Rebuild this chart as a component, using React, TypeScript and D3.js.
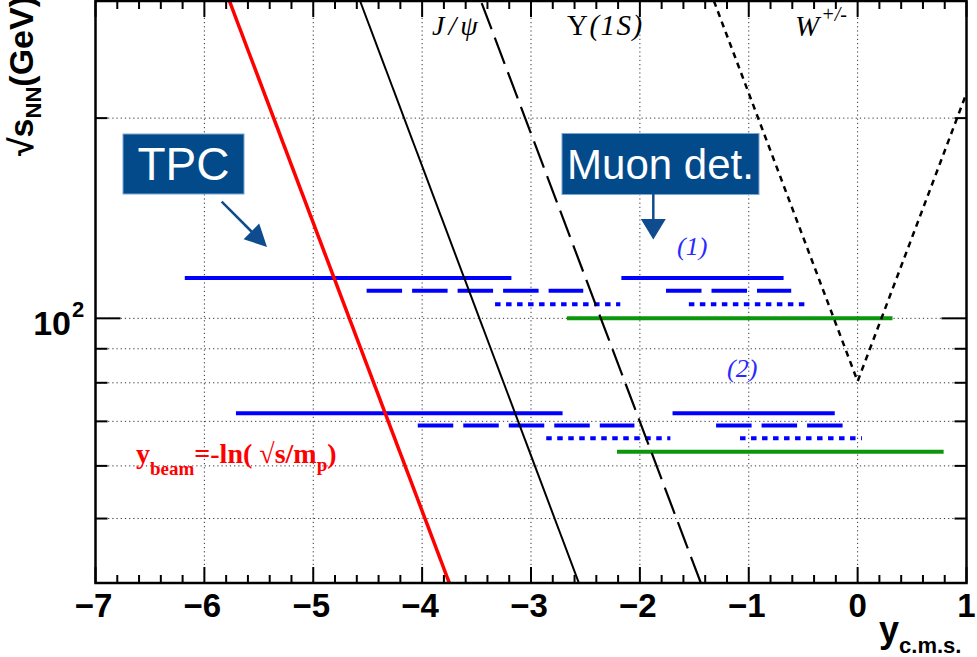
import React from 'react'
import * as d3 from 'd3'

const W = 977
const H = 657
const plot = { left: 95.5, right: 966.5, top: 1, bottom: 583 }

// axis ticks
const xTicks = [-7, -6, -5, -4, -3, -2, -1, 0, 1]
const xTickLabels = ['\u22127', '\u22126', '\u22125', '\u22124', '\u22123', '\u22122', '\u22121', '0', '1']
const yMajorTicks = [100]
const yMinorTicks = [40, 50, 60, 70, 80, 90, 200, 300]
const yGridValues = [50, 60, 70, 80, 90, 100, 200]

// kinematic limits, points are [sqrt(s_NN) GeV, y_cms]
const beamLine = [[40, -3.75], [300, -5.77]]
const jpsiLine = [[40, -2.56], [300, -4.57]]
const upsilonLine = [[40, -1.44], [300, -3.46]]
const wLine = [[300, -1.32], [80.4, 0], [300, 1.32]]

// detector acceptance bands: sqrt(s), y from, y to
const coverSolid = [
  [115, -6.18, -3.18], [115, -2.17, -0.68],
  [72, -5.71, -2.71], [72, -1.70, -0.21]
]
const coverDashed = [
  [110, -4.51, -2.52], [110, -1.76, -0.61],
  [69, -4.04, -2.05], [69, -1.30, -0.13]
]
const coverDotted = [
  [105, -3.33, -2.18], [105, -1.55, -0.44],
  [66, -2.86, -1.72], [66, -1.08, 0.04]
]
const coverGreen = [
  [100, -2.67, 0.32],
  [63, -2.21, 0.79]
]

const sans = '"Liberation Sans", Arial, sans-serif'
const serif = '"Liberation Serif", "Times New Roman", serif'

const App = () => {
  const x = d3.scaleLinear().domain([-7, 1]).range([plot.left, plot.right])
  const y = d3.scaleLog().domain([40, 300]).range([plot.bottom, plot.top])

  const line = d3
    .line<number[]>()
    .x(d => x(d[1]))
    .y(d => y(d[0]))

  const xMinor = d3.range(0, 41).map(i => -7 + i * 0.2)

  const bands = (rows: number[][], stroke: string, dash: string | undefined, key: string) =>
    rows.map((r, i) => (
      <line
        key={key + i}
        x1={x(r[1])}
        x2={x(r[2])}
        y1={y(r[0])}
        y2={y(r[0])}
        stroke={stroke}
        strokeWidth={4}
        strokeDasharray={dash}
      />
    ))

  return (
    <svg width={W} height={H} style={{ position: 'absolute', left: 0, top: 0, background: '#fff' }}>
      <defs>
        <clipPath id="plotclip">
          <rect x={plot.left} y={plot.top} width={plot.right - plot.left} height={plot.bottom - plot.top} />
        </clipPath>
      </defs>

      {/* grid */}
      <g stroke="#333" strokeWidth={1} strokeDasharray="1.2 3">
        {xTicks.slice(1, -1).map(t => (
          <line key={'gx' + t} x1={x(t)} x2={x(t)} y1={plot.top} y2={plot.bottom} />
        ))}
        {yGridValues.map(v => (
          <line key={'gy' + v} x1={plot.left} x2={plot.right} y1={y(v)} y2={y(v)} />
        ))}
      </g>

      <g clipPath="url(#plotclip)" fill="none">
        {bands(coverSolid, '#0000ff', undefined, 's')}
        {bands(coverDashed, '#0000ff', '35.5 10', 'd')}
        {bands(coverDotted, '#0000ff', '5.5 5.5', 'o')}
        {bands(coverGreen, '#0b960b', undefined, 'g')}

        <path d={line(beamLine) || ''} stroke="#ff0000" strokeWidth={3.5} />
        <path d={line(jpsiLine) || ''} stroke="#000" strokeWidth={2} />
        <path d={line(upsilonLine) || ''} stroke="#000" strokeWidth={2.2} strokeDasharray="28 9" />
        <path d={line(wLine) || ''} stroke="#000" strokeWidth={2.5} strokeDasharray="6 5" />
      </g>

      {/* frame and ticks */}
      <g stroke="#000" strokeWidth={2}>
        <rect x={plot.left} y={plot.top} width={plot.right - plot.left} height={plot.bottom - plot.top} fill="none" strokeWidth={2.5} />
        {xMinor.map((t, i) => {
          const len = i % 5 === 0 ? 16 : 8
          return (
            <g key={'xt' + i}>
              <line x1={x(t)} x2={x(t)} y1={plot.bottom} y2={plot.bottom - len} />
              <line x1={x(t)} x2={x(t)} y1={plot.top} y2={plot.top + len} />
            </g>
          )
        })}
        {yMajorTicks.concat(yMinorTicks).map(v => {
          const len = yMajorTicks.includes(v) ? 25 : 12
          return (
            <g key={'yt' + v}>
              <line x1={plot.left} x2={plot.left + len} y1={y(v)} y2={y(v)} />
              <line x1={plot.right} x2={plot.right - len} y1={y(v)} y2={y(v)} />
            </g>
          )
        })}
      </g>

      {/* x tick labels */}
      <g fontFamily={sans} fontWeight="bold" fontSize={33} textAnchor="middle" fill="#000">
        {xTicks.map((t, i) => (
          <text key={'xl' + t} x={x(t) - (t < 0 ? 2 : 0)} y={617}>
            {xTickLabels[i]}
          </text>
        ))}
      </g>
      <text x={71} y={335} fontFamily={sans} fontWeight="bold" fontSize={34} textAnchor="end">10</text>
      <text x={72} y={317} fontFamily={sans} fontWeight="bold" fontSize={22}>2</text>

      {/* axis titles */}
      <text x={879} y={642} fontFamily={sans} fontWeight="bold" fontSize={36}>
        y<tspan fontSize={22} dy={11}>c.m.s.</tspan>
      </text>
      <text transform="translate(33,-4) rotate(-90)" fontFamily={sans} fontWeight="bold" fontSize={34} textAnchor="end">
        {'\u221As'}<tspan fontSize={22} dy={8}>NN</tspan><tspan dy={-8}>(GeV)</tspan>
      </text>

      {/* curve labels */}
      <text x={432} y={35} fontFamily={serif} fontStyle="italic" fontSize={28} letterSpacing={4}>J/{'\u03C8'}</text>
      <text x={567} y={35} fontFamily={serif} fontSize={29} letterSpacing={1.5}>
        {'\u03A5'}<tspan fontStyle="italic">(1S)</tspan>
      </text>
      <text x={795} y={36} fontFamily={serif} fontStyle="italic" fontSize={29}>
        W<tspan fontSize={20} dy={-15} dx={2}>+/-</tspan>
      </text>
      <text x={677} y={255} fontFamily={serif} fontStyle="italic" fontSize={26} fill="#2a2aff">(1)</text>
      <text x={727} y={377} fontFamily={serif} fontStyle="italic" fontSize={26} fill="#2a2aff">(2)</text>

      <text x={136} y={463} fontFamily={serif} fontWeight="bold" fontSize={28} fill="#ff0000">
        y<tspan fontSize={19} dy={12}>beam</tspan>
        <tspan dy={-12}>=-ln( </tspan>
        <tspan>{'\u221As/m'}</tspan>
        <tspan fontSize={19} dy={8}>p</tspan>
        <tspan dy={-8}>)</tspan>
      </text>

      {/* annotations */}
      <rect x={123} y={134} width={121} height={60} fill="#034a8a" stroke="#7aa6d8" strokeWidth={1} />
      <text x={183.5} y={180} fontFamily={sans} fontSize={46} fill="#fff" textAnchor="middle">TPC</text>
      <line x1={221.7} y1={201.7} x2={252} y2={232} stroke="#0f4c8f" strokeWidth={2.5} />
      <polygon points="267,247 243.6,239.2 259.2,223.6" fill="#0f4c8f" />

      <rect x={562} y={133.5} width={197} height={61} fill="#034a8a" stroke="#7aa6d8" strokeWidth={1} />
      <text x={660.5} y={179} fontFamily={sans} fontSize={42} fill="#fff" textAnchor="middle">Muon det.</text>
      <line x1={653.3} y1={194} x2={653.3} y2={222} stroke="#0f4c8f" strokeWidth={2.5} />
      <polygon points="653.3,239.5 640.8,219 665.8,219" fill="#0f4c8f" />
    </svg>
  )
}

export default App
